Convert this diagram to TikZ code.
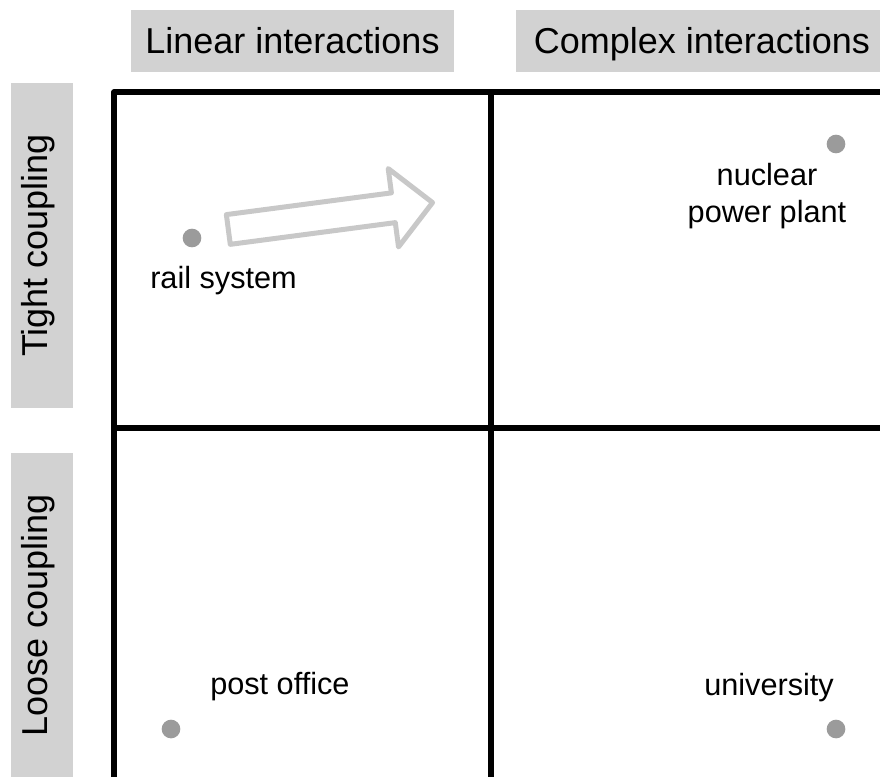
\documentclass[tikz,border=0pt]{standalone}
\usepackage{fontspec}
\setmainfont{Liberation Sans}
\usetikzlibrary{shapes.arrows}
\definecolor{boxgray}{RGB}{210,210,210}
\definecolor{dotgray}{RGB}{155,155,155}
\definecolor{arrowgray}{RGB}{200,200,200}

\begin{document}
\begin{tikzpicture}[x=0.75pt,y=-0.75pt,
  headbox/.style={fill=boxgray,inner sep=0pt,minimum height=46.5pt,
    text height=18pt,text depth=0pt,font=\fontsize{27}{32}\selectfont},
  sidebox/.style={headbox,rotate=90,text height=7.5pt,minimum width=243.75pt},
  spot/.style={circle,fill=dotgray,inner sep=0pt,minimum size=14pt},
  lbl/.style={inner sep=0pt,font=\fontsize{23}{27.75}\selectfont},
  grid/.style={line width=4pt,line join=round}]
\useasboundingbox (0,0) rectangle (880,776);
\clip (0,0) rectangle (880,776);
% headers
\node[headbox,minimum width=242.25pt] (linear) at (292.5,41) {Linear interactions};
\node[headbox,minimum width=279pt] (complex) at (702,41) {Complex interactions};
\node[sidebox] (tight) at (42,245.5) {Tight coupling};
\node[sidebox] (loose) at (42,615.5) {Loose coupling};
% the grid
\draw[grid] (114,800) -- (114,92) -- (900,92);
\draw[grid] (491,92) -- (491,800);
\draw[grid] (114,428) -- (900,428);
% systems
\node[spot] (rail) at (192,238) {};
\node[spot] (nuclear) at (836,144) {};
\node[spot] (post) at (171,729) {};
\node[spot] (univ) at (836,729) {};
\node[lbl,anchor=base west] (rail lbl) at (150,288) {rail system};
\node[lbl,anchor=base,align=center] (nuclear lbl) at (767,222) {nuclear\\power plant};
\node[lbl,anchor=base west] (post lbl) at (210,694) {post office};
\node[lbl,anchor=base west] (univ lbl) at (704,695) {university};
% shift towards tighter coupling
\node[single arrow,draw=arrowgray,line width=3.75pt,line join=round,rotate=7.5,
  inner xsep=0pt,inner ysep=9.375pt,minimum height=154.5pt,
  single arrow head extend=18.4pt,single arrow tip angle=90] (shift) at (323,217) {};
\end{tikzpicture}
\end{document}
